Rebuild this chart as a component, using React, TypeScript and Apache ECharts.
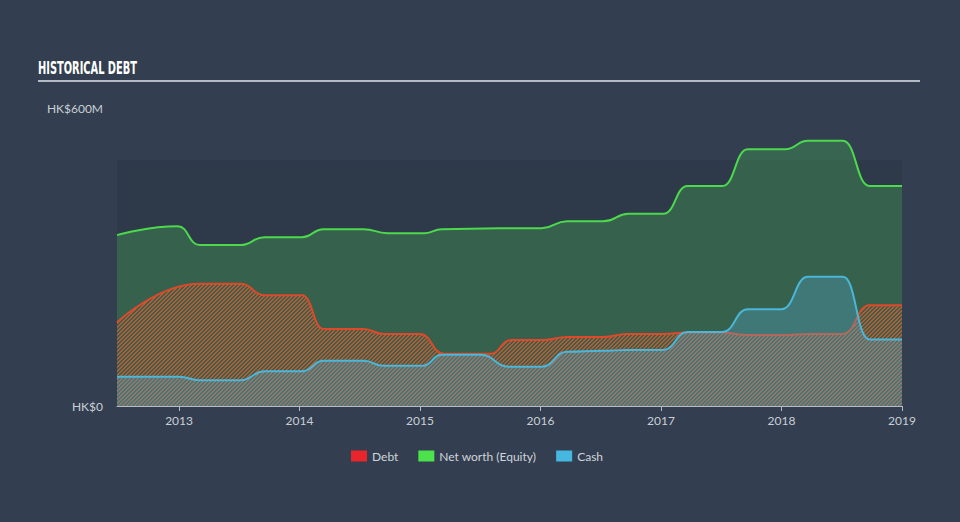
import React, { useEffect, useRef } from "react";
import * as echarts from "echarts";

// [year, HK$ millions]
const netWorth: [number, number][] = [
  [2012.485, 344], [2012.99, 362], [2013.17, 324], [2013.51, 324], [2013.71, 340],
  [2014.02, 340], [2014.2, 356], [2014.53, 356], [2014.73, 348], [2015.04, 348],
  [2015.18, 356], [2015.66, 358], [2016.01, 358], [2016.22, 372], [2016.52, 372],
  [2016.73, 387], [2017.02, 387], [2017.22, 443], [2017.51, 443], [2017.72, 517],
  [2018.03, 517], [2018.22, 534], [2018.51, 534], [2018.73, 443], [2019.0, 443],
];
const debt: [number, number][] = [
  [2012.485, 168], [2013.17, 246], [2013.51, 246], [2013.71, 223], [2014.02, 223],
  [2014.2, 155], [2014.53, 155], [2014.7, 145], [2015.0, 145], [2015.2, 105],
  [2015.58, 105], [2015.76, 133], [2016.02, 133], [2016.22, 139], [2016.52, 139],
  [2016.72, 145], [2017.02, 145], [2017.22, 148], [2017.5, 148], [2017.72, 143],
  [2018.03, 143], [2018.22, 145], [2018.51, 145], [2018.73, 203], [2019.0, 203],
];
const cash: [number, number][] = [
  [2012.485, 59], [2013.0, 59], [2013.17, 52], [2013.51, 52], [2013.71, 70],
  [2014.02, 70], [2014.2, 91], [2014.53, 91], [2014.7, 81], [2015.02, 81],
  [2015.18, 103], [2015.5, 103], [2015.74, 79], [2016.01, 79], [2016.22, 109],
  [2016.52, 111], [2016.72, 113], [2017.02, 113], [2017.22, 149], [2017.51, 149],
  [2017.72, 195], [2018.0, 195], [2018.22, 260], [2018.51, 260], [2018.73, 134],
  [2019.0, 134],
];
const yearTicks = [2013, 2014, 2015, 2016, 2017, 2018, 2019];
const yTicks = [0, 600];
const yTickLabels = ["HK$0", "HK$600M"];
const bandTop = 495;

function makeHatch(color: string) {
  const c = document.createElement("canvas");
  c.width = 4;
  c.height = 4;
  const ctx = c.getContext("2d")!;
  ctx.fillStyle = color;
  for (let i = 0; i < 4; i++) {
    ctx.fillRect(i, 3 - i, 1, 1);
    ctx.fillRect(i, (3 - i + 1) % 4, 1, 1);
  }
  return c;
}

export default function App() {
  const ref = useRef<HTMLDivElement>(null);
  useEffect(() => {
    if (!ref.current) return;
    const chart = echarts.init(ref.current, null, { renderer: "svg" });
    const hatch = makeHatch("rgba(215,90,50,0.8)");
    const labelFont = { color: "#c9ced6", fontSize: 12, fontFamily: "Lato" };
    chart.setOption({
      animation: false,
      backgroundColor: "#333f50",
      graphic: [
        {
          type: "text",
          x: 38,
          y: 59,
          scaleX: 0.58,
          style: {
            text: "HISTORICAL DEBT",
            fill: "#ffffff",
            fontFamily: "'DejaVu Sans', sans-serif",
            fontWeight: "bold",
            fontSize: 17,
          },
        },
        {
          type: "line",
          shape: { x1: 38, y1: 81, x2: 920, y2: 81 },
          style: { stroke: "#b4bbc4", lineWidth: 2 },
        },
      ],
      grid: { left: 117, right: 58, top: 108, bottom: 116 },
      legend: {
        left: 346,
        top: 445,
        itemWidth: 16,
        itemHeight: 11,
        itemGap: 20,
        icon: "rect",
        textStyle: { color: "#d0d4da", fontSize: 12, fontFamily: "Lato" },
        data: [
          { name: "Debt", itemStyle: { color: "#e8262a" } },
          { name: "Net worth (Equity)", itemStyle: { color: "#4ce24c" } },
          { name: "Cash", itemStyle: { color: "#45b8e0" } },
        ],
      },
      xAxis: {
        type: "value",
        min: 2012.485,
        max: 2019.0,
        axisLine: { show: true, lineStyle: { color: "#b4bbc4", width: 1 } },
        axisTick: {
          show: true,
          customValues: yearTicks,
          length: 5,
          lineStyle: { color: "#b4bbc4" },
        },
        axisLabel: {
          ...labelFont,
          customValues: yearTicks,
          margin: 8,
          formatter: (v: number) => String(Math.round(v)),
        },
        splitLine: { show: false },
      },
      yAxis: {
        type: "value",
        min: 0,
        max: 600,
        axisLine: { show: false },
        axisTick: { show: false },
        splitLine: { show: false },
        axisLabel: {
          ...labelFont,
          margin: 14,
          customValues: yTicks,
          formatter: (v: number) => yTickLabels[yTicks.indexOf(Math.round(v))] ?? "",
        },
      },
      series: [
        {
          name: "band",
          type: "line",
          data: [],
          z: 1,
          silent: true,
          markArea: {
            silent: true,
            itemStyle: { color: "#2e3a4a" },
            data: [[{ yAxis: 0 }, { yAxis: bandTop }]],
          },
        },
        {
          name: "Net worth (Equity)",
          type: "line",
          data: netWorth,
          smooth: 0.5,
          smoothMonotone: "x",
          showSymbol: false,
          z: 2,
          lineStyle: { color: "#4cd94c", width: 2 },
          itemStyle: { color: "#4cd94c" },
          areaStyle: { color: "rgba(70,190,85,0.3)", opacity: 1 },
        },
        {
          name: "Debt",
          type: "line",
          data: debt,
          smooth: 0.5,
          smoothMonotone: "x",
          showSymbol: false,
          z: 3,
          lineStyle: { color: "#dc4a2a", width: 2 },
          itemStyle: { color: "#dc4a2a" },
          areaStyle: {
            color: { image: hatch, repeat: "repeat", imageWidth: 4, imageHeight: 4 } as any,
            opacity: 1,
          },
        },
        {
          name: "Cash",
          type: "line",
          data: cash,
          smooth: 0.5,
          smoothMonotone: "x",
          showSymbol: false,
          z: 4,
          lineStyle: { color: "#4ab6da", width: 2 },
          itemStyle: { color: "#4ab6da" },
          areaStyle: { color: "rgba(85,175,215,0.3)", opacity: 1 },
        },
      ],
    });
    return () => chart.dispose();
  }, []);
  return (
    <div
      ref={ref}
      style={{ position: "fixed", left: 0, top: 0, width: 960, height: 522 }}
    />
  );
}
